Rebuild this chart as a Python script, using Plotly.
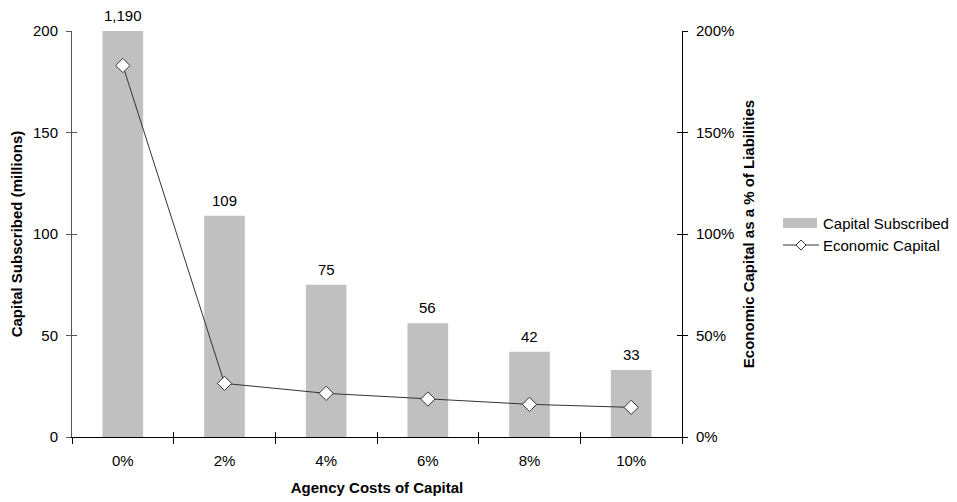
import plotly.graph_objects as go

categories = ["0%", "2%", "4%", "6%", "8%", "10%"]
capital_subscribed = [1190, 109, 75, 56, 42, 33]
economic_capital = [1.83, 0.264, 0.215, 0.187, 0.161, 0.146]
left_ticks = [0, 50, 100, 150, 200]
right_ticks = [0, 0.5, 1.0, 1.5, 2.0]
series_names = ["Capital Subscribed", "Economic Capital"]

FONT = "Liberation Sans, Arial, sans-serif"
FS = 15
LEFT_MAX = 200
BAR_COLOR = "#C0C0C0"
LINE_COLOR = "#333333"

# plot area in window pixels (page has an 8px body margin)
PX_L, PX_T, PW, PH = 72, 31, 610, 406
FIG_W, FIG_H = 949, 494


def px(xp):
    return (xp - PX_L) / PW


def py(yp):
    return (PX_T + PH - yp) / PH


fig = go.Figure()
fig.add_trace(go.Bar(
    x=categories, y=capital_subscribed, name=series_names[0],
    marker=dict(color=BAR_COLOR, line=dict(width=0)), width=0.4,
    showlegend=False,
))
fig.add_trace(go.Scatter(
    x=categories, y=economic_capital, name=series_names[1], yaxis="y2",
    mode="lines+markers",
    line=dict(color=LINE_COLOR, width=1),
    marker=dict(symbol="diamond", size=11, color="white", line=dict(color=LINE_COLOR, width=1)),
    cliponaxis=False, showlegend=False,
))

for c, v in zip(categories, capital_subscribed):
    fig.add_annotation(x=c, y=min(v, LEFT_MAX), text=f"{v:,}", showarrow=False,
                       yanchor="bottom", yshift=5, font=dict(family=FONT, size=FS, color="black"))

# legend (drawn manually to match the wide bar swatch)
fig.add_shape(type="rect", xref="paper", yref="paper",
              x0=px(783), x1=px(817), y0=py(228), y1=py(218),
              fillcolor=BAR_COLOR, line=dict(width=0))
fig.add_shape(type="line", xref="paper", yref="paper",
              x0=px(783), x1=px(819), y0=py(245), y1=py(245),
              line=dict(color=LINE_COLOR, width=1))
cx, cy, dx, dy = px(801), py(245), 5 / PW, 5 / PH
fig.add_shape(type="path", xref="paper", yref="paper",
              path=f"M {cx} {cy + dy} L {cx + dx} {cy} L {cx} {cy - dy} L {cx - dx} {cy} Z",
              fillcolor="white", line=dict(color=LINE_COLOR, width=1))
for name, yy in zip(series_names, [223, 246]):
    fig.add_annotation(xref="paper", yref="paper", x=px(821), y=py(yy), text=name,
                       showarrow=False, xanchor="left", yanchor="middle",
                       font=dict(family=FONT, size=FS, color="black"))

fig.update_layout(
    width=FIG_W, height=FIG_H,
    margin=dict(l=PX_L - 8, r=FIG_W - (PX_L - 8) - PW, t=PX_T - 8, b=FIG_H - (PX_T - 8) - PH,
                autoexpand=False),
    paper_bgcolor="white", plot_bgcolor="white",
    font=dict(family=FONT, size=FS, color="black"),
    showlegend=False,
    xaxis=dict(
        automargin=False,
        showline=True, linecolor="black", linewidth=1,
        ticks="outside", ticklen=6, tickcolor="black", tickson="boundaries",
        ticklabelstandoff=10,
        showgrid=False, zeroline=False,
        title=dict(text="<b>Agency Costs of Capital</b>", font=dict(size=FS), standoff=14),
        tickfont=dict(size=FS),
    ),
    xaxis2=dict(
        overlaying="x", type="category", categoryorder="array", categoryarray=categories,
        tickvals=categories, range=[-0.5, len(categories) - 0.5], automargin=False,
        ticks="inside", ticklen=5, tickcolor="black", tickson="boundaries",
        showticklabels=False, showline=False, showgrid=False, zeroline=False, side="bottom",
    ),
    yaxis=dict(
        automargin=False,
        range=[0, LEFT_MAX], tickvals=left_ticks,
        showline=True, linecolor="#555555", linewidth=1,
        ticks="outside", ticklen=5, tickcolor="#555555", ticklabelstandoff=5,
        showgrid=False, zeroline=False,
        title=dict(text="<b>Capital Subscribed (millions)</b>", font=dict(size=FS), standoff=8),
        tickfont=dict(size=FS),
    ),
    yaxis3=dict(
        range=[0, LEFT_MAX], tickvals=left_ticks, overlaying="y", side="left", automargin=False,
        ticks="inside", ticklen=5, tickcolor="#555555",
        showticklabels=False, showline=False, showgrid=False, zeroline=False,
    ),
    yaxis2=dict(
        automargin=False,
        range=[0, 2], tickvals=right_ticks, tickformat=".0%",
        overlaying="y", side="right",
        showline=True, linecolor="black", linewidth=1,
        ticks="outside", ticklen=5, tickcolor="black", ticklabelstandoff=5,
        showgrid=False, zeroline=False,
        title=dict(text="<b>Economic Capital as a % of Liabilities</b>", font=dict(size=FS), standoff=10),
        tickfont=dict(size=FS),
    ),
    yaxis4=dict(
        range=[0, 2], tickvals=right_ticks, overlaying="y", side="right", automargin=False,
        ticks="inside", ticklen=5, tickcolor="black",
        showticklabels=False, showline=False, showgrid=False, zeroline=False,
    ),
)

# invisible anchors so the tick-only overlay axes are drawn
fig.add_trace(go.Scatter(x=[None], y=[None], xaxis="x2", yaxis="y3", showlegend=False, hoverinfo="skip"))
fig.add_trace(go.Scatter(x=[None], y=[None], xaxis="x2", yaxis="y4", showlegend=False, hoverinfo="skip"))

fig.write_html("out.html")
